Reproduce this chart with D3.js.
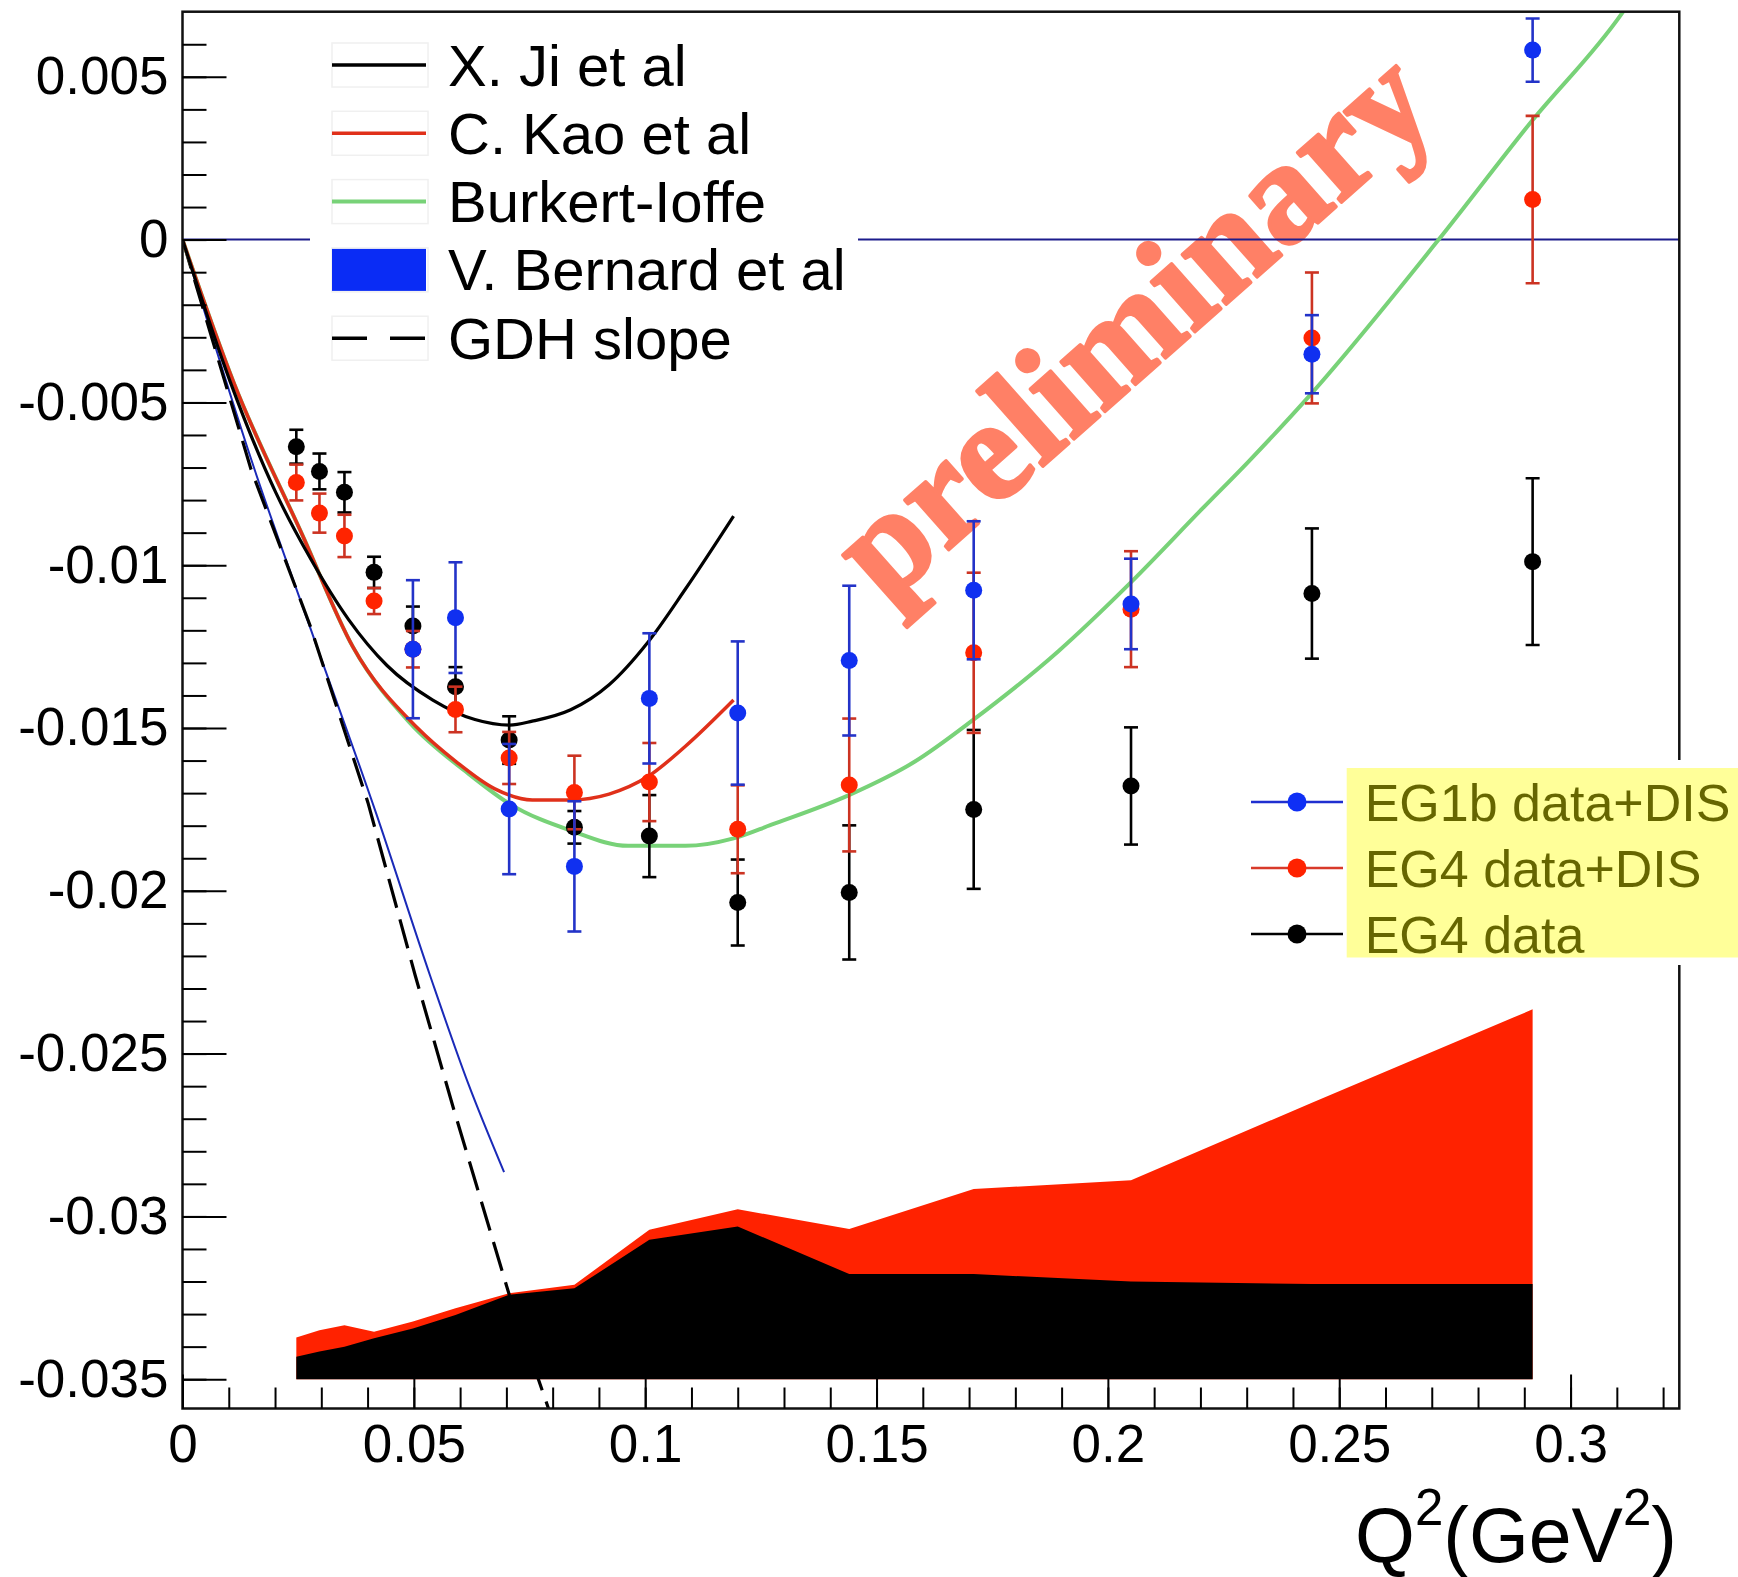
<!DOCTYPE html>
<html><head><meta charset="utf-8">
<script src="https://cdn.jsdelivr.net/npm/d3@7"></script>
<style>
html,body{margin:0;padding:0;background:#fff;}
svg{display:block;font-family:"Liberation Sans",Arial,Helvetica,sans-serif;}
</style></head><body>
<svg id="chart" width="1738" height="1577"></svg>
<script>
// ---------------- data ----------------
const q2Bins   = [0.0246,0.0296,0.0350,0.0414,0.0498,0.0590,0.0706,0.0847,0.1009,0.1200,0.1441,0.1710,0.2050,0.2441,0.2918];
const eg4Y     = [-0.00636,-0.00712,-0.00776,-0.01022,-0.01187,-0.01373,-0.01537,-0.01805,-0.01832,-0.02036,-0.02005,-0.01750,-0.01678,-0.01087,-0.00989];
const eg4Err   = [0.00052,0.00055,0.00062,0.00048,0.00060,0.00060,0.00073,0.00050,0.00126,0.00132,0.00206,0.00244,0.00180,0.00200,0.00256];
const eg4DisY  = [-0.00746,-0.00840,-0.00910,-0.01110,-0.01258,-0.01443,-0.01592,-0.01698,-0.01666,-0.01811,-0.01675,-0.01269,-0.01135,-0.00302,0.00123];
const eg4DisErr= [0.00055,0.00060,0.00065,0.00040,0.00056,0.00070,0.00080,0.00113,0.00120,0.00135,0.00204,0.00246,0.00178,0.00201,0.00257];
const eg1bX    = [0.0498,0.0590,0.0706,0.0847,0.1009,0.1200,0.1441,0.1710,0.2050,0.2441,0.2918];
const eg1bY    = [-0.01258,-0.01161,-0.01749,-0.01925,-0.01409,-0.01454,-0.01293,-0.01077,-0.01119,-0.00352,0.00582];
const eg1bErr  = [0.00212,0.00170,0.00200,0.00200,0.00200,0.00220,0.00230,0.00212,0.00139,0.00120,0.00097];

// systematic bands (upper edges, lower edge at -0.035)
const sysBase  = -0.035;
const sysTotal = [-0.03372,-0.03350,-0.03334,-0.03354,-0.03323,-0.03282,-0.03236,-0.03210,-0.03041,-0.02978,-0.03039,-0.02916,-0.02889,-0.02651,-0.02364];
const sysEG4   = [-0.03431,-0.03415,-0.03400,-0.03374,-0.03344,-0.03303,-0.03241,-0.03221,-0.03072,-0.03031,-0.03177,-0.03177,-0.03200,-0.03208,-0.03208];

// model curves [Q2, value]
const jiCurve = [[0,0],[0.0103,-0.00436],[0.0202,-0.00778],[0.0276,-0.00978],[0.0359,-0.01167],[0.0442,-0.01308],[0.0541,-0.01414],[0.0632,-0.01474],[0.0707,-0.01491],[0.0756,-0.01479],[0.0839,-0.01444],[0.0922,-0.01367],[0.1005,-0.01238],[0.1087,-0.01073],[0.1191,-0.00849]];
const kaoCurve = [[0,0],[0.0111,-0.0044],[0.026,-0.0091],[0.0368,-0.0125],[0.0508,-0.0150],[0.0591,-0.01603],[0.0674,-0.01686],[0.0756,-0.01721],[0.0839,-0.01721],[0.0922,-0.01703],[0.1005,-0.0165],[0.1087,-0.01556],[0.1191,-0.01414]];
const burkertCurve = [[0,0],[0.0111,-0.0044],[0.026,-0.0091],[0.0368,-0.0125],[0.0492,-0.01485],[0.0616,-0.01638],[0.0707,-0.01733],[0.0839,-0.01815],[0.0963,-0.01862],[0.1087,-0.01862],[0.1191,-0.01839],[0.1273,-0.01797],[0.1439,-0.01707],[0.1583,-0.01603],[0.1708,-0.01476],[0.1893,-0.01264],[0.2048,-0.01055],[0.2203,-0.00828],[0.2305,-0.0068],[0.2438,-0.00476],[0.2715,0.0],[0.2915,0.00362],[0.3111,0.00695],[0.3128,0.0073]];
const bernardCurve = [[0,0],[0.0152,-0.0069],[0.0283,-0.0122],[0.0418,-0.0176],[0.0535,-0.0226],[0.0617,-0.0259],[0.0695,-0.02864]];
const gdhSlope = [[0,0],[0.0148,-0.00705],[0.0277,-0.0119],[0.0401,-0.0173],[0.0503,-0.0226],[0.0586,-0.0267],[0.0706,-0.0324],[0.0791,-0.0359]];

// axes
const xTickValues = [0,0.05,0.1,0.15,0.2,0.25,0.3];
const xTickLabels = ["0","0.05","0.1","0.15","0.2","0.25","0.3"];
const yTickValues = [0.005,0,-0.005,-0.01,-0.015,-0.02,-0.025,-0.03,-0.035];
const yTickLabels = ["0.005","0","-0.005","-0.01","-0.015","-0.02","-0.025","-0.03","-0.035"];
const modelLegend = ["X. Ji et al","C. Kao et al","Burkert-Ioffe","V. Bernard et al","GDH slope"];
const dataLegend  = ["EG1b data+DIS","EG4 data+DIS","EG4 data"];
const watermark = "preliminary";

// ---------------- drawing ----------------
const svg = d3.select("#chart");
const L=182.5, R=1679.3, T=11.7, B=1408.5;
const x = d3.scaleLinear().domain([0,0.3235]).range([L,R]);
const y = d3.scaleLinear().domain([-0.0359,0.007]).range([B,T]);

svg.append("rect").attr("width",1738).attr("height",1577).attr("fill","#fff");
svg.append("defs").append("clipPath").attr("id","plotclip")
  .append("rect").attr("x",L).attr("y",T).attr("width",R-L).attr("height",B-T);
const plot = svg.append("g").attr("clip-path","url(#plotclip)");

// watermark
plot.append("text")
  .attr("transform","translate(1163,360) rotate(-41.5)")
  .attr("text-anchor","middle")
  .attr("textLength",742).attr("lengthAdjust","spacing")
  .style("font-family","'Liberation Serif','Times New Roman',serif")
  .style("font-weight","bold").style("font-size","144px")
  .attr("fill","rgb(255,128,102)")
  .attr("stroke","rgb(255,128,102)").attr("stroke-width",3.5).attr("stroke-linejoin","round")
  .text(watermark);

// zero line
plot.append("line").attr("x1",L).attr("x2",R).attr("y1",y(0)).attr("y2",y(0))
  .attr("stroke","#1c1c8c").attr("stroke-width",2);

// systematic bands
const area = (vals)=> d3.area().x((d,i)=>x(q2Bins[i])).y0(y(sysBase)).y1(d=>y(d))(vals);
plot.append("path").attr("d",area(sysTotal)).attr("fill","#ff2200");
plot.append("path").attr("d",area(sysEG4)).attr("fill","#000");

// curves
const line = d3.line().x(d=>x(d[0])).y(d=>y(d[1])).curve(d3.curveMonotoneX);
const straight = d3.line().x(d=>x(d[0])).y(d=>y(d[1]));
plot.append("path").attr("d",line(bernardCurve)).attr("fill","none").attr("stroke","#1a2ab8").attr("stroke-width",2);
plot.append("path").attr("d",straight(gdhSlope)).attr("fill","none").attr("stroke","#000").attr("stroke-width",3.2).attr("stroke-dasharray","30,12");
plot.append("path").attr("d",line(burkertCurve)).attr("fill","none").attr("stroke","#78d278").attr("stroke-width",4);
plot.append("path").attr("d",line(kaoCurve)).attr("fill","none").attr("stroke","#e0301a").attr("stroke-width",3.5);
plot.append("path").attr("d",line(jiCurve)).attr("fill","none").attr("stroke","#000").attr("stroke-width",3.2);

// data points with error bars
function series(xs, ys, es, barColor, markColor){
  const g = plot.append("g");
  xs.forEach((xv,i)=>{
    const cx = x(xv), y1 = y(ys[i]+es[i]), y2 = y(ys[i]-es[i]);
    g.append("line").attr("x1",cx).attr("x2",cx).attr("y1",y1).attr("y2",y2).attr("stroke",barColor).attr("stroke-width",2.6);
    g.append("line").attr("x1",cx-7).attr("x2",cx+7).attr("y1",y1).attr("y2",y1).attr("stroke",barColor).attr("stroke-width",2.6);
    g.append("line").attr("x1",cx-7).attr("x2",cx+7).attr("y1",y2).attr("y2",y2).attr("stroke",barColor).attr("stroke-width",2.6);
  });
  xs.forEach((xv,i)=>{
    g.append("circle").attr("cx",x(xv)).attr("cy",y(ys[i])).attr("r",8.5).attr("fill",markColor);
  });
}
series(q2Bins, eg4Y, eg4Err, "#000", "#000");
series(q2Bins, eg4DisY, eg4DisErr, "#cc3322", "#ff2400");
series(eg1bX, eg1bY, eg1bErr, "#2333c8", "#1030f0");

// frame
svg.append("rect").attr("x",L).attr("y",T).attr("width",R-L).attr("height",B-T)
  .attr("fill","none").attr("stroke","#111").attr("stroke-width",2.5);

// axes
function styleAxis(g){
  g.select(".domain").remove();
  g.selectAll(".tick line").attr("stroke","#000").attr("stroke-width",2);
  g.selectAll(".tick text").attr("fill","#000").style("font-size","53px")
    .style("font-family","'Liberation Sans',Arial,sans-serif");
}
svg.append("g").attr("transform",`translate(0,${B})`)
  .call(d3.axisBottom(x).tickValues(d3.range(0,0.3235,0.01)).tickSize(-21).tickFormat(""))
  .call(styleAxis);
svg.append("g").attr("transform",`translate(0,${B})`)
  .call(d3.axisBottom(x).tickValues(xTickValues).tickSize(-34).tickSizeOuter(0).tickPadding(16)
     .tickFormat((d,i)=>xTickLabels[i]))
  .call(styleAxis);
svg.append("g").attr("transform",`translate(${L},0)`)
  .call(d3.axisLeft(y).tickValues(d3.range(-0.035,0.0065,0.001)).tickSize(-24).tickFormat(""))
  .call(styleAxis);
svg.append("g").attr("transform",`translate(${L},0)`)
  .call(d3.axisLeft(y).tickValues(yTickValues).tickSize(-44).tickSizeOuter(0).tickPadding(14)
     .tickFormat((d,i)=>yTickLabels[i]))
  .call(styleAxis);

// axis title
const xt = svg.append("text").attr("x",1677).attr("y",1562).attr("text-anchor","end")
  .style("font-size","77px").attr("fill","#000");
xt.append("tspan").text("Q");
xt.append("tspan").style("font-size","51px").attr("dy",-37).text("2");
xt.append("tspan").attr("dy",37).text("(GeV");
xt.append("tspan").style("font-size","51px").attr("dy",-37).text("2");
xt.append("tspan").attr("dy",37).text(")");

// model legend (top left)
const lg = svg.append("g");
lg.append("rect").attr("x",310).attr("y",25).attr("width",548).attr("height",347).attr("fill","#fff");
modelLegend.forEach((t,i)=>{
  const c = 65 + 68.3*i;
  lg.append("rect").attr("x",332).attr("y",c-22).attr("width",96).attr("height",44)
    .attr("fill","none").attr("stroke","#f0f0f0").attr("stroke-width",1.5);
  if(i===3){
    lg.append("rect").attr("x",332).attr("y",c-21).attr("width",94).attr("height",42).attr("fill","#0a2cf5");
  } else {
    const col = ["#000","#e0301a","#78d278",null,"#000"][i];
    const ln = lg.append("line").attr("x1",332).attr("x2",426).attr("y1",c).attr("y2",c)
      .attr("stroke",col).attr("stroke-width",i===2?4:3.5);
    if(i===4) ln.attr("stroke-dasharray","35,23");
  }
  lg.append("text").attr("x",448).attr("y",c+20.5).style("font-size","58px").attr("fill","#000").text(t);
});

// data legend (right)
const dg = svg.append("g");
dg.append("rect").attr("x",1240).attr("y",760).attr("width",498).attr("height",205).attr("fill","#fff");
const dLine = ["#1f2fd0","#d83a2a","#000"], dMark = ["#0f2ff5","#ff2200","#000"];
dataLegend.forEach((t,i)=>{
  const c = 802 + 66*i;
  dg.append("line").attr("x1",1251).attr("x2",1343).attr("y1",c).attr("y2",c).attr("stroke",dLine[i]).attr("stroke-width",2.5);
  dg.append("circle").attr("cx",1297).attr("cy",c).attr("r",9.5).attr("fill",dMark[i]);
  dg.append("text").attr("x",1364.7).attr("y",c+18.5).style("font-size","52px").attr("fill","#000").text(t);
});
dg.append("rect").attr("x",1346.7).attr("y",768).attr("width",400).attr("height",189.5)
  .attr("fill","#ffff00").attr("opacity",0.4);
</script>
</body></html>
